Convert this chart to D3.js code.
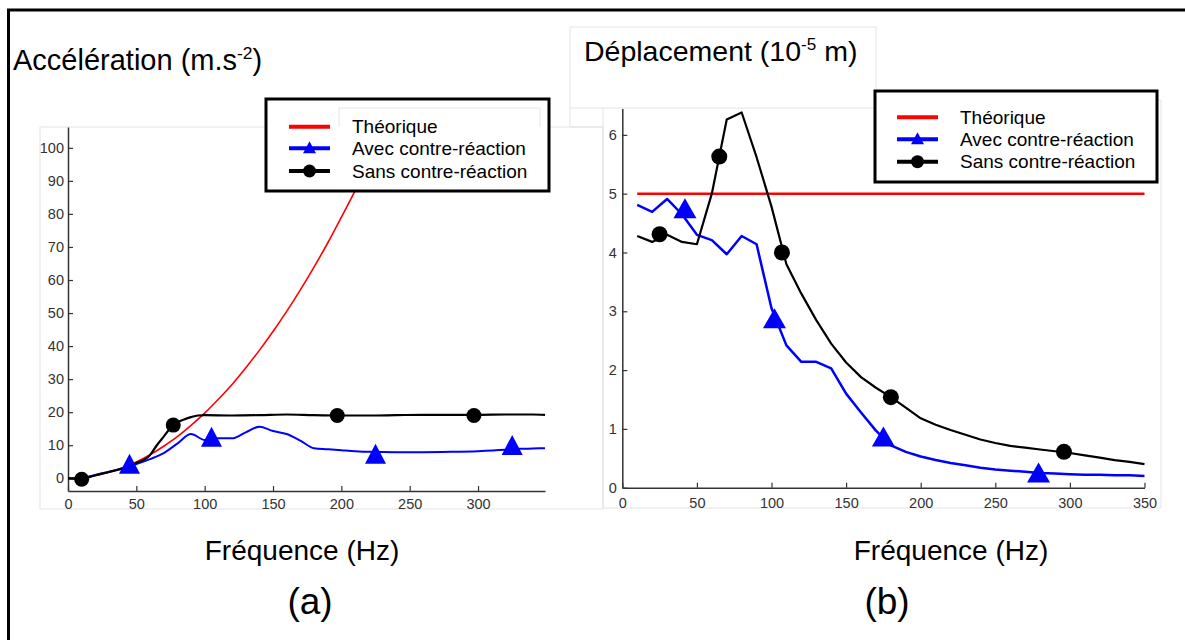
<!DOCTYPE html>
<html><head><meta charset="utf-8">
<script src="https://cdn.jsdelivr.net/npm/d3@7/dist/d3.min.js"></script>
<style>body{margin:0;background:#fff}svg{display:block;font-family:"Liberation Sans",Arial,sans-serif}</style>
</head><body><svg id="c" width="1185" height="640"></svg>
<script>
// ---------- DATA ----------
const accTicksX = [0,50,100,150,200,250,300];
const accTicksY = [0,10,20,30,40,50,60,70,80,90,100];
const accTheoFreq = [0,10,20,30,40,50,60,70,80,90,100,110,120,130,140,150,160,170,180,190,200,210,220,230];
const accTheoVal  = [0,0.2,0.8,1.8,3.2,4.9,7.1,9.7,12.6,16.0,19.7,23.9,28.4,33.4,38.7,44.4,50.5,57.0,63.9,71.2,79.0,87.0,95.5,104.4];
const accSansFreq = [0,10,20,30,40,50,60,65,70,75,80,85,90,95,100,120,140,160,180,200,220,240,260,280,300,320,340,349];
const accSansVal  = [0,-0.2,0.9,1.9,3.0,4.6,7.0,10.0,12.6,15.2,16.9,17.8,18.5,19.0,19.1,19.0,19.1,19.3,19.1,19.0,19.0,19.1,19.2,19.2,19.2,19.3,19.3,19.2];
const accAvecFreq = [0,10,20,30,40,50,60,70,80,90,100,110,120,130,140,150,160,170,180,190,200,210,220,240,260,280,300,320,330,340,349];
const accAvecVal  = [0,0.1,1.0,2.0,3.0,4.3,5.8,7.6,10.5,13.4,11.6,12.1,12.1,13.9,15.6,14.3,13.4,11.4,9.1,8.8,8.5,8.2,8.0,7.9,7.9,8.0,8.2,8.6,8.9,9.0,9.1];
const accSansMarkF = [10,77,197,297];
const accSansMarkV = [-0.3,16.1,19.0,19.0];
const accAvecMarkF = [45,105,225,325];
const accAvecMarkV = [4.4,12.6,7.4,10.1];

const depTicksX = [0,50,100,150,200,250,300,350];
const depTicksY = [0,1,2,3,4,5,6];
const depFreq = [10,20,30,40,50,60,70,80,90,100,110,120,130,140,150,160,170,180,190,200,210,220,230,240,250,260,270,280,290,300,310,320,330,340,350];
const depTheo = [5.0,5.0,5.0,5.0,5.0,5.0,5.0,5.0,5.0,5.0,5.0,5.0,5.0,5.0,5.0,5.0,5.0,5.0,5.0,5.0,5.0,5.0,5.0,5.0,5.0,5.0,5.0,5.0,5.0,5.0,5.0,5.0,5.0,5.0,5.0];
const depSans = [4.28,4.18,4.30,4.18,4.14,5.0,6.26,6.38,5.62,4.78,3.80,3.30,2.85,2.45,2.13,1.88,1.70,1.54,1.36,1.18,1.07,0.98,0.90,0.82,0.76,0.71,0.68,0.65,0.62,0.59,0.55,0.51,0.47,0.44,0.40];
const depAvec = [4.81,4.69,4.91,4.65,4.30,4.21,3.97,4.28,4.14,3.05,2.42,2.14,2.14,2.03,1.60,1.28,0.97,0.72,0.61,0.53,0.47,0.42,0.38,0.34,0.31,0.29,0.27,0.25,0.24,0.23,0.22,0.22,0.21,0.21,0.20];
const depSansMarkF = [25,65,107,180,296];
const depSansMarkV = [4.31,5.63,4.0,1.54,0.61];
const depAvecMarkF = [42,102,175,279];
const depAvecMarkV = [4.75,2.88,0.87,0.26];

const legendLabels = ["Théorique","Avec contre-réaction","Sans contre-réaction"];
const colors = {theo:"#ff0000", avec:"#0000ff", sans:"#000000"};

// ---------- DRAW ----------
const svg = d3.select("#c");
const FONT = '"Liberation Sans",Arial,sans-serif';
const zip = (f,v)=>f.map((x,i)=>[x,v[i]]);

// faint frames
const gray = "#e4e4e4";
svg.append("rect").attr("x",40).attr("y",127).attr("width",563).attr("height",382).attr("fill","none").attr("stroke",gray);
svg.append("path").attr("d","M603,108V508H1161V100H876").attr("fill","none").attr("stroke",gray);
svg.append("rect").attr("x",570).attr("y",27).attr("width",306).attr("height",81).attr("fill","#fff").attr("stroke",gray);
svg.append("path").attr("d","M570,108V127H603").attr("fill","none").attr("stroke",gray);

// outer border
svg.append("path").attr("d","M8.5,640V10H1185").attr("fill","none").attr("stroke","#000").attr("stroke-width",3);

function triPath(w,h){return `M0,${-h/2}L${w/2},${h/2}L${-w/2},${h/2}Z`;}

function panel(cfg){
  const g = svg.append("g");
  const x = d3.scaleLinear().domain(cfg.xd).range(cfg.xr);
  const y = d3.scaleLinear().domain(cfg.yd).range(cfg.yr);
  const clipId = cfg.id+"clip";
  svg.append("defs").append("clipPath").attr("id",clipId).append("rect")
    .attr("x",cfg.xr[0]).attr("y",cfg.yr[1]).attr("width",cfg.xr[1]-cfg.xr[0]+2).attr("height",cfg.yr[0]-cfg.yr[1]);
  const fmt = d3.format("d");
  const ax = g.append("g").attr("transform",`translate(0,${cfg.yr[0]})`)
    .call(d3.axisBottom(x).tickValues(cfg.tx).tickFormat(fmt).tickSize(-5).tickPadding(cfg.xpad).tickSizeOuter(0));
  const ay = g.append("g").attr("transform",`translate(${cfg.xr[0]},0)`)
    .call(d3.axisLeft(y).tickValues(cfg.ty).tickFormat(fmt).tickSize(-5).tickPadding(cfg.ypad).tickSizeOuter(0));
  [ax,ay].forEach(a=>{
    a.select(".domain").attr("stroke","#333").attr("stroke-width",1.5);
    a.selectAll(".tick line").attr("stroke","#333").attr("stroke-width",1.2);
    a.selectAll("text").attr("fill","#333").attr("font-size",14.5).attr("font-family",FONT);
  });
  const line = d3.line().x(d=>x(d[0])).y(d=>y(d[1])).curve(cfg.curve);
  const lg = g.append("g").attr("clip-path",`url(#${clipId})`);
  cfg.series.forEach(s=>{
    lg.append("path").attr("d",line(s.data)).attr("fill","none").attr("stroke",s.color)
      .attr("stroke-width",s.w).attr("stroke-linejoin","round");
  });
  g.selectAll(".circ").data(cfg.circles).join("circle")
    .attr("cx",d=>x(d[0])).attr("cy",d=>y(d[1])).attr("r",cfg.r).attr("fill","#000");
  g.selectAll(".tri").data(cfg.tris).join("path")
    .attr("d",triPath(cfg.tw,cfg.th)).attr("transform",d=>`translate(${x(d[0])},${y(d[1])})`).attr("fill","#0000ff");
}

panel({
  id:"a", xd:[0,349], xr:[68,545], yd:[-3.85,106.3], yr:[491,127],
  tx:accTicksX, ty:accTicksY, xpad:8, ypad:4, curve:d3.curveMonotoneX,
  series:[
    {data:zip(accTheoFreq,accTheoVal), color:colors.theo, w:1.6},
    {data:zip(accAvecFreq,accAvecVal), color:colors.avec, w:2},
    {data:zip(accSansFreq,accSansVal), color:colors.sans, w:2.2}
  ],
  circles:zip(accSansMarkF,accSansMarkV), tris:zip(accAvecMarkF,accAvecMarkV), r:7.5, tw:21, th:20
});
panel({
  id:"b", xd:[0,350], xr:[622.3,1144.5], yd:[0,6.45], yr:[487.7,108.4],
  tx:depTicksX, ty:depTicksY, xpad:10, ypad:5.5, curve:d3.curveLinear,
  series:[
    {data:zip(depFreq,depTheo), color:colors.theo, w:2.5},
    {data:zip(depFreq,depAvec), color:colors.avec, w:2.5},
    {data:zip(depFreq,depSans), color:colors.sans, w:2.2}
  ],
  circles:zip(depSansMarkF,depSansMarkV), tris:zip(depAvecMarkF,depAvecMarkV), r:8, tw:23, th:20
});

function legend(bx,by,bw,bh,lx0,lx1,tx,rows,extra){
  const g = svg.append("g");
  g.append("rect").attr("x",bx).attr("y",by).attr("width",bw).attr("height",bh)
    .attr("fill","#fff").attr("stroke","#000").attr("stroke-width",3);
  if(extra) g.append("path").attr("d",extra).attr("fill","none").attr("stroke",gray);
  const cols=[colors.theo,colors.avec,colors.sans];
  legendLabels.forEach((t,i)=>{
    const yy=rows[i];
    g.append("line").attr("x1",lx0).attr("x2",lx1).attr("y1",yy).attr("y2",yy).attr("stroke",cols[i]).attr("stroke-width",4);
    const cx=(lx0+lx1)/2;
    if(i===1) g.append("path").attr("d",triPath(13,12)).attr("transform",`translate(${cx},${yy-1})`).attr("fill",cols[i]);
    if(i===2) g.append("circle").attr("cx",cx).attr("cy",yy).attr("r",6.5).attr("fill",cols[i]);
    g.append("text").attr("x",tx).attr("y",yy+6.7).attr("font-size",19).attr("font-family",FONT).attr("fill","#000").text(t);
  });
}
legend(266,99,283,92,289,330,352,[126.7,148.3,171],"M339,127V108H540V127");
legend(875,91,282,91,897,938,960,[117.3,139.3,161.7],null);

function title(x,y,fs,main,paren,sup,after){
  const t=svg.append("text").attr("x",x).attr("y",y).attr("font-size",fs).attr("font-family",FONT).attr("fill","#000");
  t.append("tspan").text(main+" "+paren);
  t.append("tspan").attr("font-size",fs*0.6).attr("dy",-fs*0.38).text(sup);
  t.append("tspan").attr("dy",fs*0.38).text(after);
}
title(13,70,29,"Accélération","(m.s","-2",")");
title(584,61,28.5,"Déplacement","(10","-5"," m)");

const lab = [["Fréquence (Hz)",302,560,28],["Fréquence (Hz)",951,560,28],["(a)",310,614,37],["(b)",887,614,37]];
lab.forEach(d=>svg.append("text").attr("x",d[1]).attr("y",d[2]).attr("text-anchor","middle")
  .attr("font-size",d[3]).attr("font-family",FONT).attr("fill","#000").text(d[0]));
</script></body></html>
